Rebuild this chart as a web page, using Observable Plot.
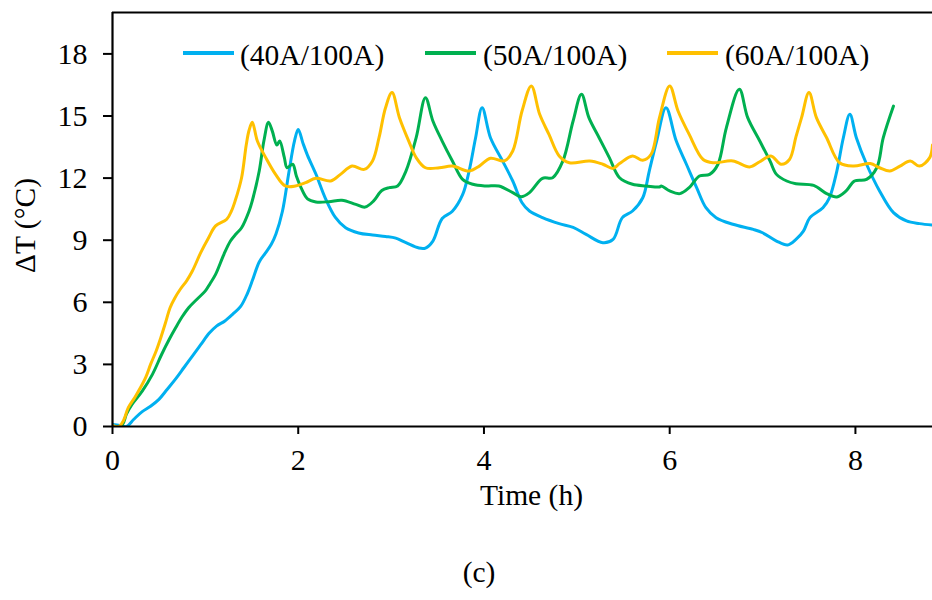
<!DOCTYPE html>
<html>
<head>
<meta charset="utf-8">
<script src="https://cdn.jsdelivr.net/npm/d3@7"></script>
<script src="https://cdn.jsdelivr.net/npm/@observablehq/plot@0.6"></script>
<style>
  body { margin: 0; background: #fff; font-family: "Liberation Serif", "Times New Roman", serif; }
  #wrap { position: relative; width: 932px; height: 600px; }
  .lg-sw { position: absolute; height: 4px; width: 51px; }
  .lg-tx { position: absolute; font-size: 29.5px; line-height: 29.5px; color: #000; white-space: nowrap; }
  #cap { position: absolute; left: 0; width: 958px; top: 558px; text-align: center; font-size: 29.5px; line-height: 29.5px; }
</style>
</head>
<body>
<div id="wrap"></div>
<script>
// ---- data ----
const seriesNames = ["(40A/100A)", "(50A/100A)", "(60A/100A)"];
const seriesColors = ["#00B0F0", "#00B050", "#FFC000"];
const xTicks = [0, 2, 4, 6, 8];
const yTicks = [0, 3, 6, 9, 12, 15, 18];

const time40 = [0.00,0.08,0.15,0.23,0.32,0.41,0.50,0.59,0.68,0.77,0.86,0.95,1.04,1.12,1.21,1.30,1.38,1.45,1.51,1.58,1.65,1.71,1.76,1.83,1.90,1.96,2.00,2.05,2.10,2.19,2.29,2.40,2.51,2.65,2.80,2.94,3.05,3.16,3.30,3.37,3.45,3.55,3.66,3.77,3.84,3.91,3.98,4.07,4.20,4.31,4.41,4.49,4.63,4.81,4.96,5.10,5.28,5.39,5.49,5.60,5.71,5.78,5.86,5.96,6.07,6.18,6.29,6.39,6.50,6.68,6.90,7.00,7.15,7.27,7.36,7.44,7.51,7.65,7.72,7.80,7.87,7.94,8.01,8.12,8.26,8.41,8.55,8.69,8.83];
const dT40 = [0.10,0.05,0.00,0.35,0.72,0.98,1.31,1.80,2.30,2.85,3.40,3.95,4.50,4.85,5.10,5.45,5.80,6.40,7.10,7.95,8.40,8.80,9.30,10.40,12.30,13.80,14.35,13.70,13.10,12.20,11.05,10.10,9.60,9.35,9.25,9.18,9.10,8.88,8.62,8.62,8.96,10.05,10.40,11.20,12.34,13.95,15.40,13.95,12.83,11.86,10.81,10.41,10.09,9.80,9.62,9.28,8.88,9.04,10.09,10.41,11.05,12.34,13.80,15.40,13.80,12.67,11.54,10.57,10.09,9.77,9.52,9.36,8.96,8.77,9.04,9.44,10.09,10.57,11.05,12.34,13.95,15.08,13.95,12.67,11.38,10.33,9.93,9.80,9.73];

const time50 = [0.00,0.10,0.15,0.21,0.32,0.43,0.53,0.61,0.68,0.75,0.82,0.91,1.00,1.05,1.11,1.20,1.27,1.33,1.39,1.47,1.505,1.58,1.63,1.68,1.72,1.77,1.80,1.85,1.88,1.94,1.98,2.03,2.10,2.19,2.33,2.47,2.62,2.72,2.81,2.90,2.98,3.07,3.16,3.27,3.37,3.45,3.55,3.66,3.77,3.88,4.02,4.16,4.31,4.40,4.49,4.63,4.74,4.85,4.96,5.05,5.13,5.24,5.35,5.46,5.60,5.75,5.89,5.91,6.00,6.11,6.21,6.32,6.43,6.52,6.61,6.75,6.84,6.97,7.08,7.15,7.26,7.36,7.55,7.69,7.80,7.90,7.99,8.12,8.23,8.30,8.41];
const dT50 = [0.00,0.05,0.60,1.07,1.71,2.52,3.49,4.20,4.77,5.30,5.74,6.15,6.55,6.90,7.35,8.32,8.96,9.30,9.60,10.40,10.90,12.34,13.79,14.70,14.28,13.60,13.79,13.00,12.50,12.67,12.10,11.54,11.00,10.85,10.86,10.93,10.73,10.60,10.89,11.40,11.54,11.62,12.34,13.95,15.88,14.76,13.79,12.83,11.94,11.70,11.62,11.62,11.30,11.10,11.30,11.99,12.02,12.83,14.76,16.05,14.92,13.95,12.99,12.02,11.70,11.62,11.57,11.62,11.38,11.25,11.54,12.10,12.18,12.67,14.43,16.29,14.92,13.79,12.83,12.18,11.86,11.73,11.65,11.25,11.09,11.38,11.86,11.94,12.50,13.95,15.48];

const time60 = [0.00,0.07,0.12,0.17,0.24,0.30,0.36,0.41,0.47,0.52,0.57,0.62,0.67,0.73,0.80,0.86,0.95,1.035,1.11,1.23,1.28,1.32,1.39,1.44,1.47,1.505,1.56,1.65,1.756,1.86,1.97,2.08,2.19,2.35,2.455,2.58,2.71,2.80,2.87,2.94,3.01,3.09,3.19,3.27,3.37,3.52,3.66,3.84,3.95,4.07,4.22,4.31,4.41,4.51,4.60,4.70,4.81,4.92,5.14,5.28,5.39,5.46,5.60,5.71,5.80,5.89,6.00,6.09,6.21,6.36,6.47,6.68,6.86,6.97,7.09,7.20,7.29,7.36,7.42,7.50,7.58,7.69,7.83,7.98,8.16,8.26,8.37,8.48,8.59,8.69,8.80,8.83];
const dT60 = [0.05,0.00,0.30,0.91,1.40,1.87,2.40,3.00,3.65,4.29,5.00,5.74,6.20,6.63,7.05,7.51,8.40,9.12,9.69,10.01,10.40,10.89,12.02,13.60,14.30,14.70,13.79,12.99,12.18,11.62,11.62,11.78,11.99,11.86,12.18,12.58,12.42,12.83,13.95,15.40,16.13,14.92,13.79,12.99,12.50,12.50,12.58,12.34,12.58,12.96,12.83,13.31,15.24,16.45,15.08,14.11,13.07,12.74,12.83,12.67,12.47,12.70,13.07,12.86,13.15,14.92,16.45,15.24,14.11,12.90,12.74,12.83,12.54,12.79,13.07,12.67,12.90,14.00,14.92,16.13,14.92,13.95,12.74,12.58,12.70,12.50,12.34,12.58,12.83,12.58,12.99,13.60];

// ---- build table ----
const seriesT = [time40, time50, time60];
const seriesV = [dT40, dT50, dT60];
const rows = [];
seriesNames.forEach((name, k) => {
  seriesT[k].forEach((t, i) => rows.push({series: name, t, v: seriesV[k][i]}));
});

const font = "Liberation Serif, Times New Roman, serif";
const W = 932, H = 530;

const chart = Plot.plot({
  width: W,
  height: H,
  marginLeft: 112,
  marginRight: 0,
  marginTop: 12,
  marginBottom: H - 426,
  style: { fontFamily: font, fontSize: "29.5px", color: "#000", background: "#fff" },
  x: { domain: [0, 8.83], label: null },
  y: { domain: [0, 20], label: null },
  color: { domain: seriesNames, range: seriesColors },
  marks: [
    Plot.ruleY([20], { stroke: "#000", strokeWidth: 2 }),
    Plot.lineY(rows, { x: "t", y: "v", z: "series", stroke: "series", strokeWidth: 3, curve: "catmull-rom", clip: true }),
    Plot.ruleY([0], { stroke: "#000", strokeWidth: 2.2 }),
    Plot.ruleX([0], { stroke: "#000", strokeWidth: 2.2 }),
    Plot.axisY({ ticks: yTicks, tickSize: 9, tickPadding: 16, strokeWidth: 2, fontSize: 30, label: null }),
    Plot.axisX({ ticks: xTicks, tickSize: 8, tickPadding: 14, strokeWidth: 2, fontSize: 30, label: null }),
    Plot.text(["Time (h)"], { frameAnchor: "bottom", dx: 9, dy: 69, lineAnchor: "middle", textAnchor: "middle", fontSize: 29.5 }),
    Plot.text(["\u0394T (\u00B0C)"], { frameAnchor: "left", dx: -87, dy: 6, rotate: -90, lineAnchor: "middle", textAnchor: "middle", fontSize: 29.5 })
  ]
});

const wrap = document.getElementById("wrap");
wrap.appendChild(chart);

// legend (inside plot area, top)
const legendPos = [[183, 240], [425, 483], [667, 725]];
seriesNames.forEach((name, k) => {
  const sw = document.createElement("div");
  sw.className = "lg-sw";
  sw.style.left = legendPos[k][0] + "px";
  sw.style.top = "51px";
  sw.style.background = seriesColors[k];
  wrap.appendChild(sw);
  const tx = document.createElement("div");
  tx.className = "lg-tx";
  tx.style.left = legendPos[k][1] + "px";
  tx.style.top = "41px";
  tx.textContent = name;
  wrap.appendChild(tx);
});

const cap = document.createElement("div");
cap.id = "cap";
cap.textContent = "(c)";
wrap.appendChild(cap);
</script>
</body>
</html>
